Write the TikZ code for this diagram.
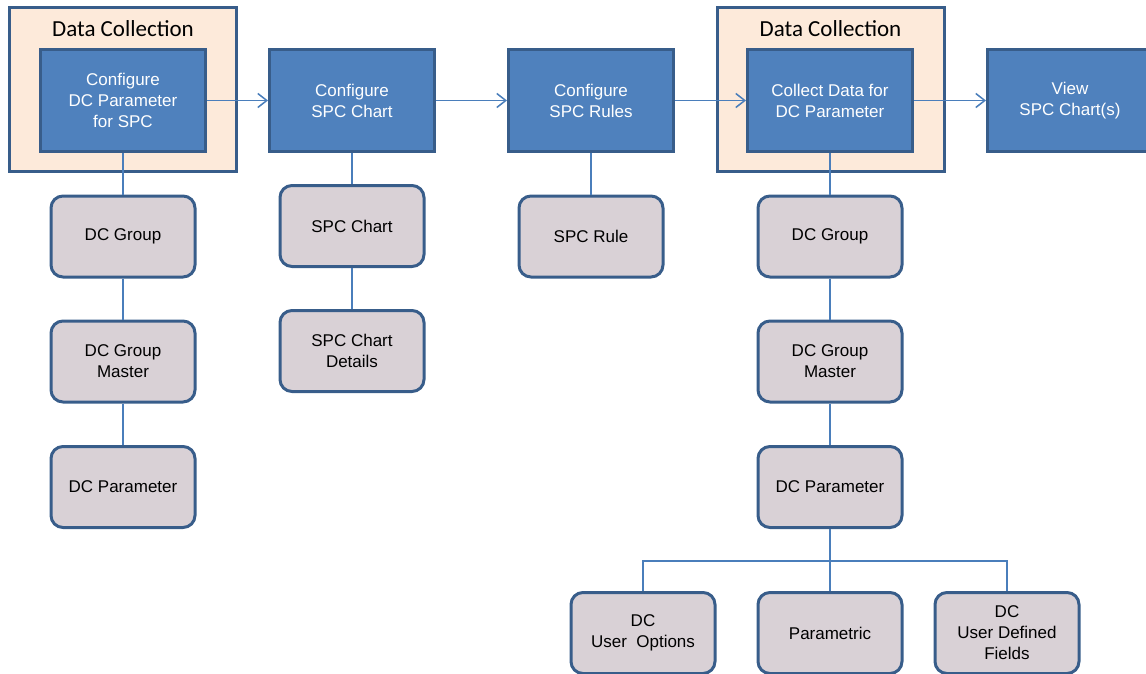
\documentclass[tikz,border=0pt]{standalone}
\usepackage{fontspec}
\setmainfont{Liberation Sans}
\newfontfamily\calfont{Carlito}
\usetikzlibrary{arrows.meta}
\definecolor{bfill}{HTML}{4F81BD}
\definecolor{bdraw}{HTML}{385D8A}
\definecolor{peach}{HTML}{FDEADA}
\definecolor{gfill}{HTML}{D9D1D6}
\definecolor{lcol}{HTML}{4A7EBB}
\begin{document}
\begin{tikzpicture}[x=1pt,y=-1pt,
  dcbox/.style={draw=bdraw,fill=peach,line width=3pt,minimum width=227pt,minimum height=164pt,inner sep=0pt},
  dctitle/.style={font=\calfont\fontsize{23}{27}\selectfont,inner sep=0pt},
  bluebox/.style={draw=bdraw,fill=bfill,line width=3pt,minimum width=165pt,minimum height=102pt,align=center,text=white,font=\fontsize{17}{21}\selectfont,inner sep=0pt},
  graybox/.style={draw=bdraw,fill=gfill,line width=3pt,rounded corners=12pt,minimum width=144pt,minimum height=81pt,align=center,text=black,font=\fontsize{17}{21}\selectfont,inner sep=0pt},
  conn/.style={draw=lcol,line width=1.3pt},
  flow/.style={draw=lcol,line width=1.3pt,-{Straight Barb[length=9pt,width=14pt,line width=1.5pt]}}
]
\useasboundingbox (0,0) rectangle (1146,674);
% Data collection frames
\node[dcbox] (dc1) at (123,89.5) {};
\node[dctitle] (dct1) at (123,29) {Data Collection};
\node[dcbox] (dc2) at (830.5,89.5) {};
\node[dctitle] (dct2) at (830.5,29) {Data Collection};
% top row
\node[bluebox] (b1) at (123,100.5) {Configure\\DC Parameter\\for SPC};
\node[bluebox] (b2) at (352,100.5) {Configure\\SPC Chart};
\node[bluebox] (b3) at (591,100.5) {Configure\\SPC Rules};
\node[bluebox] (b4) at (830,100.5) {Collect Data for\\DC Parameter};
\node[bluebox] (b5) at (1070,100.5) {View\\SPC Chart(s)};
% column 1
\node[graybox] (g11) at (123,236.5) {DC Group};
\node[graybox] (g12) at (123,361.5) {DC Group\\Master};
\node[graybox] (g13) at (123,487) {DC Parameter};
% column 2
\node[graybox] (g21) at (352,226) {SPC Chart};
\node[graybox] (g22) at (352,351) {SPC Chart\\Details};
% column 3
\node[graybox] (g31) at (591,236.5) {SPC Rule};
% column 4
\node[graybox] (g41) at (830,236.5) {DC Group};
\node[graybox] (g42) at (830,361.5) {DC Group\\Master};
\node[graybox] (g43) at (830,487) {DC Parameter};
% bottom row
\node[graybox] (h1) at (643,633) {DC\\User~ Options};
\node[graybox] (h2) at (830,633) {Parametric};
\node[graybox] (h3) at (1007,633) {DC\\User Defined\\Fields};
% vertical connectors
\draw[conn] (b1.south) -- (g11.north);
\draw[conn] (g11.south) -- (g12.north);
\draw[conn] (g12.south) -- (g13.north);
\draw[conn] (b2.south) -- (g21.north);
\draw[conn] (g21.south) -- (g22.north);
\draw[conn] (b3.south) -- (g31.north);
\draw[conn] (b4.south) -- (g41.north);
\draw[conn] (g41.south) -- (g42.north);
\draw[conn] (g42.south) -- (g43.north);
\coordinate (tj) at (830,561);
\draw[conn] (g43.south) -- (tj);
\draw[conn] (h1.north) |- (tj) -| (h3.north);
\draw[conn] (tj) -- (h2.north);
% flow arrows
\draw[flow] (b1.east) -- (b2.west);
\draw[flow] (b2.east) -- (b3.west);
\draw[flow] (b3.east) -- (b4.west);
\draw[flow] (b4.east) -- (b5.west);
\end{tikzpicture}
\end{document}
